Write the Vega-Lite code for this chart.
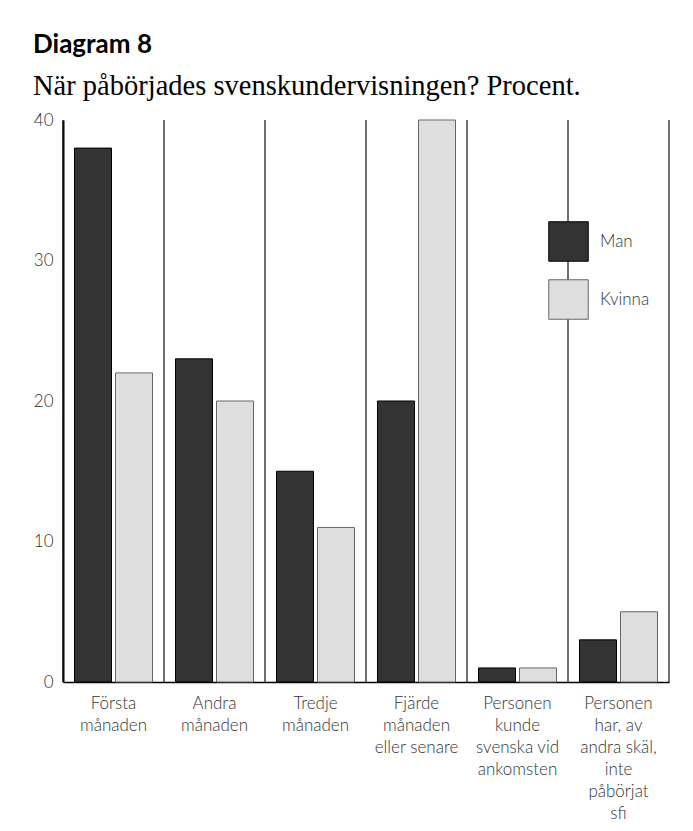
{
  "$schema": "https://vega.github.io/schema/vega-lite/v6.json",
  "width": 606,
  "height": 562,
  "autosize": {"type": "none"},
  "padding": {"left": 63, "top": 120, "right": 24, "bottom": 149},
  "background": "white",
  "title": {
    "text": "Diagram 8",
    "subtitle": "När påbörjades svenskundervisningen? Procent.",
    "anchor": "start",
    "frame": "group",
    "dx": -30,
    "offset": 11,
    "font": "Lato",
    "fontSize": 26,
    "fontWeight": "bold",
    "color": "#000",
    "subtitleFont": "Liberation Serif",
    "subtitleFontSize": 28.5,
    "subtitleColor": "#000",
    "subtitlePadding": 14
  },
  "config": {
    "view": {"stroke": null},
    "axis": {"labelFont": "Lato", "labelFontWeight": 300}
  },
  "data": {
    "values": [
      {"cat": "Första|månaden", "gender": "Man", "value": 38},
      {"cat": "Första|månaden", "gender": "Kvinna", "value": 22},
      {"cat": "Andra|månaden", "gender": "Man", "value": 23},
      {"cat": "Andra|månaden", "gender": "Kvinna", "value": 20},
      {"cat": "Tredje|månaden", "gender": "Man", "value": 15},
      {"cat": "Tredje|månaden", "gender": "Kvinna", "value": 11},
      {"cat": "Fjärde|månaden|eller senare", "gender": "Man", "value": 20},
      {"cat": "Fjärde|månaden|eller senare", "gender": "Kvinna", "value": 40},
      {"cat": "Personen|kunde|svenska vid|ankomsten", "gender": "Man", "value": 1},
      {"cat": "Personen|kunde|svenska vid|ankomsten", "gender": "Kvinna", "value": 1},
      {"cat": "Personen|har, av|andra skäl,|inte|påbörjat|sfi", "gender": "Man", "value": 3},
      {"cat": "Personen|har, av|andra skäl,|inte|påbörjat|sfi", "gender": "Kvinna", "value": 5}
    ]
  },
  "layer": [
    {
      "transform": [{"filter": "datum.gender === 'Man'"}],
      "mark": {"type": "rule", "color": "#111", "strokeWidth": 1.2},
      "encoding": {
        "x": {"field": "cat", "type": "nominal", "sort": null, "bandPosition": 0}
      }
    },
    {
      "transform": [{"filter": "datum.gender === 'Man' && indexof(datum.cat, 'sfi') >= 0"}],
      "mark": {"type": "rule", "color": "#111", "strokeWidth": 1.2},
      "encoding": {
        "x": {"field": "cat", "type": "nominal", "sort": null, "bandPosition": 1}
      }
    },
    {
      "mark": {"type": "bar", "strokeWidth": 1},
      "encoding": {
        "x": {
          "field": "cat",
          "type": "nominal",
          "sort": null,
          "scale": {"paddingInner": 0, "paddingOuter": 0},
          "axis": {
            "title": null,
            "labelAngle": 0,
            "labelAlign": "center",
            "labelExpr": "split(datum.label, '|')",
            "labelFontSize": 17,
            "labelLineHeight": 22,
            "labelColor": "#333",
            "labelPadding": 13,
            "labelBaseline": "top",
            "ticks": false,
            "domain": true,
            "domainColor": "#000",
            "domainWidth": 1.5,
            "labelLimit": 200
          }
        },
        "xOffset": {
          "field": "gender",
          "sort": ["Man", "Kvinna"],
          "scale": {"paddingInner": 0.0976, "paddingOuter": 0.28}
        },
        "y": {
          "field": "value",
          "type": "quantitative",
          "scale": {"domain": [0, 40], "nice": false},
          "axis": {
            "title": null,
            "values": [0, 10, 20, 30, 40],
            "grid": false,
            "ticks": false,
            "domain": true,
            "domainColor": "#000",
            "domainWidth": 2,
            "labelFontSize": 17,
            "labelColor": "#333",
            "labelPadding": 10
          }
        },
        "fill": {
          "field": "gender",
          "type": "nominal",
          "sort": ["Man", "Kvinna"],
          "scale": {"domain": ["Man", "Kvinna"], "range": ["#333333", "#dedede"]},
          "legend": {
            "title": null,
            "orient": "none",
            "legendX": 485,
            "legendY": 101,
            "padding": 0,
            "symbolType": "square",
            "symbolSize": 1560,
            "symbolStrokeColor": "#111",
            "symbolStrokeWidth": 1,
            "symbolOpacity": 1,
            "labelFont": "Lato",
            "labelFontWeight": 300,
            "labelFontSize": 17,
            "labelColor": "#333",
            "labelOffset": 11,
            "rowPadding": 13
          }
        },
        "stroke": {
          "field": "gender",
          "type": "nominal",
          "scale": {"domain": ["Man", "Kvinna"], "range": ["#000000", "#666666"]},
          "legend": null
        }
      }
    }
  ]
}
